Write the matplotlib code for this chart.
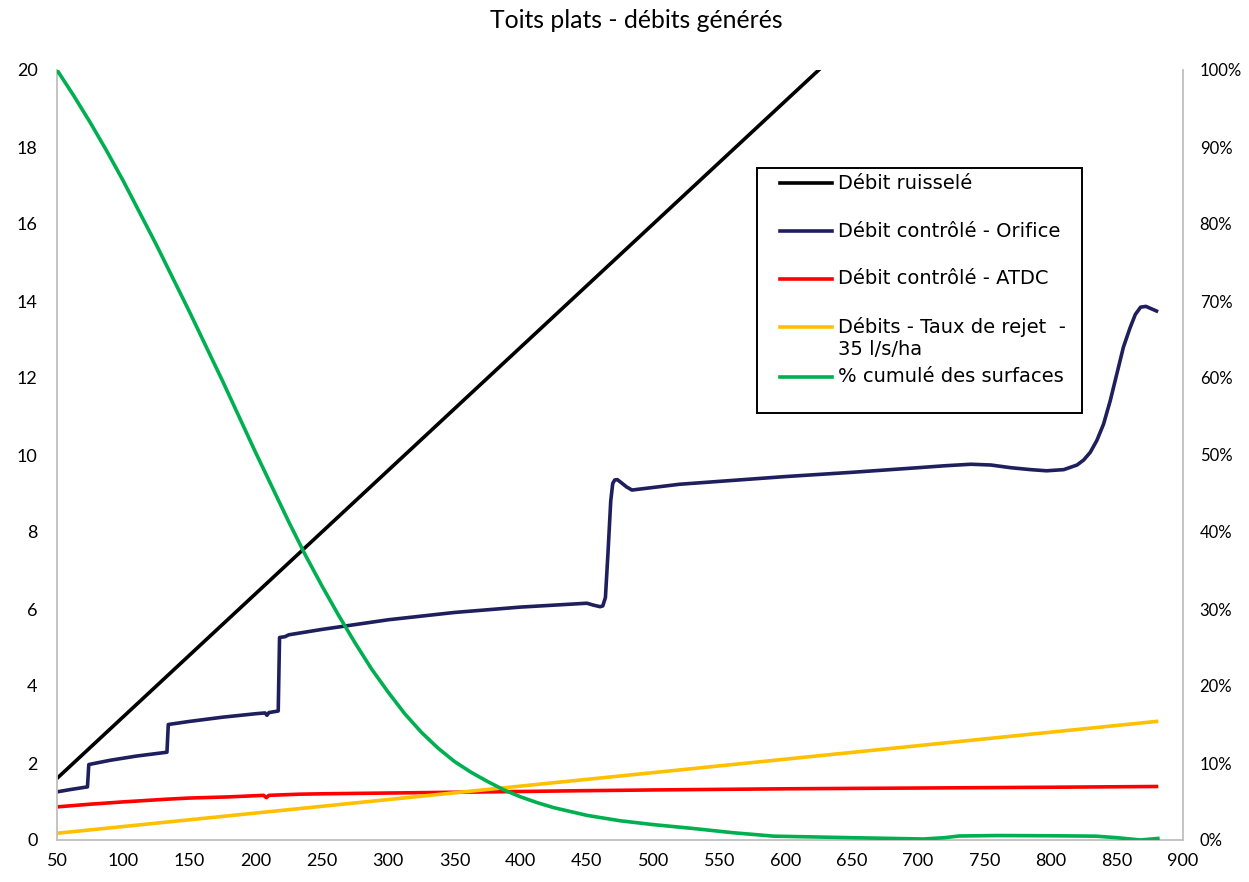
import matplotlib
matplotlib.use("Agg")
import matplotlib.pyplot as plt
from matplotlib.lines import Line2D
from matplotlib.patches import Rectangle
from matplotlib.ticker import FuncFormatter, MultipleLocator

# ---- data -------------------------------------------------------------
# roof surface (m2) for the linear series
surface = [50, 100, 150, 200, 250, 300, 350, 400, 450, 500, 550, 600,
           650, 700, 750, 800, 850, 880]
# runoff flow (l/s)
runoff = [1.6, 3.2, 4.8, 6.4, 8.0, 9.6, 11.2, 12.8, 14.4, 16.0, 17.6,
          19.2, 20.8, 22.4, 24.0, 25.6, 27.2, 28.16]
# discharge limit 35 l/s/ha (l/s)
limit_35 = [0.175, 0.35, 0.525, 0.70, 0.875, 1.05, 1.225, 1.40, 1.575,
            1.75, 1.925, 2.10, 2.275, 2.45, 2.625, 2.80, 2.975, 3.08]

# controlled flow through an orifice
orifice_x = [50, 60, 73, 74, 90, 110, 133, 134, 150, 175, 200, 207, 208.5,
             210, 217, 218, 222, 225, 250, 300, 350, 400, 450, 455, 460,
             462, 464, 466, 468, 469.5, 471, 473, 476, 480, 484, 520, 600,
             650, 700, 720, 740, 755, 770, 785, 797, 810, 820, 825, 830,
             835, 840, 845, 850, 855, 860, 864, 868, 872, 876, 880]
orifice_q = [1.25, 1.31, 1.38, 1.96, 2.07, 2.18, 2.28, 3.0, 3.08, 3.19,
             3.28, 3.30, 3.24, 3.31, 3.35, 5.26, 5.28, 5.33, 5.47, 5.72,
             5.91, 6.05, 6.15, 6.10, 6.06, 6.08, 6.3, 7.5, 8.8, 9.26, 9.35,
             9.36, 9.28, 9.17, 9.09, 9.24, 9.44, 9.55, 9.67, 9.72, 9.76,
             9.74, 9.67, 9.62, 9.59, 9.62, 9.74, 9.87, 10.07, 10.38, 10.8,
             11.4, 12.1, 12.8, 13.3, 13.65, 13.84, 13.86, 13.8, 13.74]

# controlled flow with ATDC device
atdc_x = [50, 75, 100, 133, 150, 180, 206, 208, 210, 233, 250, 300, 350,
          400, 445, 500, 600, 700, 800, 880]
atdc_q = [0.86, 0.93, 0.99, 1.06, 1.09, 1.12, 1.16, 1.10, 1.16, 1.19,
          1.20, 1.22, 1.24, 1.26, 1.28, 1.30, 1.33, 1.35, 1.37, 1.39]

# cumulated share of roof surfaces (%)
share_x = [50, 62.5, 75, 87.5, 100, 125, 150, 175, 200, 225, 237.5, 250,
           262.5, 275, 287.5, 300, 312.5, 325, 337.5, 350, 362.5, 375,
           387.5, 400, 412.5, 425, 450, 475, 500, 530, 560, 591, 650, 704,
           720, 731, 760, 800, 834, 850, 868, 881]
share_pct = [100, 96.7, 93.2, 89.5, 85.6, 77.3, 68.6, 59.6, 50.3, 41.3,
             37.0, 33.0, 29.2, 25.6, 22.2, 19.2, 16.4, 14.0, 11.95, 10.2,
             8.8, 7.6, 6.5, 5.6, 4.85, 4.2, 3.2, 2.5, 2.0, 1.5, 0.95, 0.5,
             0.3, 0.13, 0.3, 0.52, 0.58, 0.55, 0.5, 0.3, 0.0, 0.2]

labels = ["Débit ruisselé", "Débit contrôlé - Orifice",
          "Débit contrôlé - ATDC", "Débits - Taux de rejet  -\n35 l/s/ha",
          "% cumulé des surfaces"]
colors = ["#000000", "#1F1F5E", "#FF0000", "#FFC000", "#00B050"]

title = "Toits plats - débits générés"

# ---- figure -----------------------------------------------------------
tick_font = "Lato"
legend_font = ["DejaVu Sans Condensed", "DejaVu Sans"]
grey = "#BFBFBF"
lw = 2.6

fig = plt.figure(figsize=(12.49, 8.82), dpi=100)
ax = fig.add_axes([57 / 1249, 42 / 882, 1126 / 1249, 770 / 882])
ax2 = ax.twinx()

ax.plot(surface, runoff, color=colors[0], lw=lw, solid_capstyle="butt")
ax.plot(orifice_x, orifice_q, color=colors[1], lw=lw, solid_joinstyle="round")
ax.plot(atdc_x, atdc_q, color=colors[2], lw=lw)
ax.plot(surface, limit_35, color=colors[3], lw=lw)
ax2.plot(share_x, [p / 100 for p in share_pct], color=colors[4], lw=lw,
         solid_joinstyle="round")

ax.set_xlim(50, 900)
ax.set_ylim(0, 20)
ax2.set_ylim(0, 1)
ax.xaxis.set_major_locator(MultipleLocator(50))
ax.yaxis.set_major_locator(MultipleLocator(2))
ax2.yaxis.set_major_locator(MultipleLocator(0.1))
ax2.yaxis.set_major_formatter(FuncFormatter(lambda v, _: f"{round(v * 100)}%"))

for a in (ax, ax2):
    for s in a.spines.values():
        s.set_visible(False)
ax.spines["left"].set_visible(True)
ax.spines["bottom"].set_visible(True)
ax2.spines["right"].set_visible(True)
for s in (ax.spines["left"], ax.spines["bottom"], ax2.spines["right"]):
    s.set_color(grey)
    s.set_linewidth(1.3)

ax.tick_params(axis="x", length=0, pad=9, labelsize=13)
ax.tick_params(axis="y", length=0, pad=14, labelsize=13)
ax2.tick_params(axis="y", length=0, pad=12, labelsize=12)
for lab in ax.get_xticklabels() + ax.get_yticklabels() + ax2.get_yticklabels():
    lab.set_fontfamily(tick_font)

fig.text(636 / 1249, 1 - 20 / 882, title, ha="center", va="center",
         fontsize=17.8, family=tick_font)

# ---- legend box -------------------------------------------------------
tr = ax2.transAxes
box_x0, box_x1 = 0.6217, 0.9103
box_y0, box_y1 = 0.5545, 0.8727
ax2.add_patch(Rectangle((box_x0, box_y0), box_x1 - box_x0, box_y1 - box_y0,
                        transform=tr, facecolor="white", edgecolor="black",
                        lw=1.4, zorder=5))
row_y = [0.8532, 0.7909, 0.7286, 0.6662, 0.6013]
line_step = 0.0298
h0, h1, tx = 0.642, 0.688, 0.6936
for lab, col, y in zip(labels, colors, row_y):
    ax2.add_line(Line2D([h0, h1], [y, y], transform=tr, color=col, lw=lw,
                        zorder=6))
    for k, part in enumerate(lab.split("\n")):
        ax2.text(tx, y - k * line_step, part, transform=tr, va="center",
                 ha="left", fontsize=14, family=legend_font, zorder=6)

fig.savefig("out.png", dpi=100, facecolor="white")
